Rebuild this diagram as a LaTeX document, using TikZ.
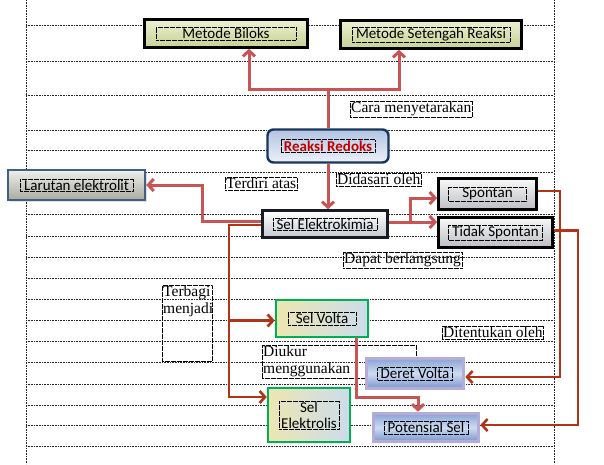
\documentclass[tikz,border=0pt]{standalone}
\usepackage{fontspec}
\setmainfont{Liberation Serif}
\newfontfamily\boxfont{Carlito}
\usetikzlibrary{arrows.meta,shadows}

\definecolor{merahmuda}{RGB}{200,84,84}
\definecolor{merahtua}{RGB}{178,52,22}
\definecolor{redokstext}{RGB}{192,0,0}
\definecolor{redoksline}{RGB}{24,52,92}
\definecolor{larutanline}{RGB}{66,96,134}
\definecolor{hijau}{RGB}{0,176,80}
\definecolor{ungu}{RGB}{182,172,216}

\begin{document}
\begin{tikzpicture}[x=1pt,y=-1pt]
	\tikzstyle{garis}   = [line width=0.8pt, dash pattern=on 0.8pt off 0.8pt, black!85]
	\tikzstyle{kotak}   = [rectangle, inner sep=0pt]
	\tikzstyle{metode}  = [kotak, draw=black, line width=2.6pt, top color={rgb,255:red,236;green,240;blue,210}, bottom color={rgb,255:red,198;green,210;blue,148}, drop shadow={opacity=0.45, shadow xshift=1.5pt, shadow yshift=-1.5pt}]
	\tikzstyle{redoks}  = [kotak, rounded corners=6pt, draw=redoksline, line width=2.4pt, top color={rgb,255:red,178;green,196;blue,226}, bottom color={rgb,255:red,236;green,241;blue,249}]
	\tikzstyle{elektro} = [kotak, draw={rgb,255:red,24;green,26;blue,36}, line width=2.6pt, top color=white, bottom color={rgb,255:red,196;green,200;blue,208}, drop shadow={opacity=0.35, shadow xshift=1.5pt, shadow yshift=-1.5pt}]
	\tikzstyle{larutan} = [kotak, draw=larutanline, line width=2.4pt, top color={rgb,255:red,238;green,238;blue,234}, bottom color={rgb,255:red,168;green,172;blue,160}, drop shadow={opacity=0.25, shadow xshift=1.5pt, shadow yshift=-1.5pt}]
	\tikzstyle{spontan} = [kotak, draw=black, line width=2.8pt, top color={rgb,255:red,248;green,248;blue,248}, bottom color={rgb,255:red,188;green,190;blue,196}, drop shadow={opacity=0.35, shadow xshift=1.5pt, shadow yshift=-1.5pt}]
	\tikzstyle{sel}     = [kotak, draw=hijau, line width=2.4pt, left color={rgb,255:red,236;green,230;blue,178}, right color={rgb,255:red,204;green,220;blue,236}]
	\tikzstyle{deret}   = [kotak, draw=ungu, line width=3.6pt, top color={rgb,255:red,136;green,164;blue,214}, bottom color={rgb,255:red,120;green,150;blue,206}, middle color={rgb,255:red,206;green,220;blue,242}]
	\tikzstyle{tekst}   = [draw=black, line width=0.45pt, dash pattern=on 0.5pt off 0.7pt, inner sep=1pt, align=center, font=\boxfont\fontsize{15}{16}\selectfont]
	\tikzstyle{ket}     = [draw=black, line width=0.45pt, dash pattern=on 0.5pt off 0.7pt, inner sep=1pt, anchor=north west, align=left, font=\fontsize{15.5}{17}\selectfont]
	\tikzstyle{hubung}  = [draw=merahmuda, line width=3pt, -{Straight Barb[length=5.5pt, width=12pt]}]
	\tikzstyle{panahtua} = [draw=merahtua, line width=2.6pt, -{Straight Barb[length=5.5pt, width=12pt]}]

	\useasboundingbox (0,0) rectangle (604,464);

	% table lines behind the map
	\foreach \y in {25,61,95,130,150,172,214,236,257,278,299,320,341,362,384,405,425,446}
		\draw[garis] (26,\y) -- (554,\y);
	\foreach \x in {26,554}
		\draw[garis] (\x,0) -- (\x,464);

	% labels
	\node[ket] (cara) at (350,101) {Cara menyetarakan};
	\node[ket] (terdiri) at (225,177) {Terdiri atas};
	\node[ket] (didasari) at (336,173) {Didasari oleh};
	\node[ket] (dapat) at (343,252) {Dapat berlangsung};
	\node[ket] (terbagi) at (162,285) {\parbox[t][74pt][t]{48pt}{Terbagi\\menjadi}};
	\node[ket, text width=152] (diukur) at (262,345) {Diukur\\menggunakan};
	\node[ket] (ditentukan) at (442,326) {Ditentukan oleh};

	% boxes
	\foreach \nama/\jenis/\x/\y/\w/\h/\tw/\isi in {
		biloks/metode/226/33.5/163/28/140/{Metode Biloks},
		setengah/metode/431/34.5/181/28/158/{Metode Setengah Reaksi},
		redoks/redoks/328/146/121/33/94/{\bfseries\color{redokstext}Reaksi Redoks},
		elektrokimia/elektro/325/224/125/27/104/{Sel Elektrokimia},
		larutan/larutan/76.5/185/137/30/113/{Larutan elektrolit},
		spontan/spontan/487.5/194/98/31/78/{Spontan},
		tidak/spontan/495.5/232.5/114/30/94/{Tidak Spontan},
		volta/sel/322/318.5/92/37/68/{Sel Volta},
		elektrolis/sel/309/415/82/54/60/{Sel\\Elektrolis},
		deret/deret/415/373.5/97/30/75/{Deret Volta},
		potensial/deret/426/427.5/105/28/84/{Potensial Sel}}
	{
		\node[\jenis, minimum width=\w, minimum height=\h] (\nama) at (\x,\y) {};
		\node[tekst, minimum width=\tw] (\nama-t) at (\nama) {\isi};
	}

	% connectors
	\coordinate (cabang) at (redoks.north |- 0,89);
	\coordinate (dasar) at ([xshift=22pt,yshift=2pt]elektrokimia.east);
	\coordinate (bagi) at (229,397);
	\coordinate (ukur) at (356,397);
	\coordinate (tentu) at (560,377);
	\coordinate (tentu2) at (578,425);

	\draw[hubung, -] (redoks.north) -- (cabang);
	\draw[hubung] (cabang) -| ([xshift=23pt]biloks.south);
	\draw[hubung] (cabang) -| ([xshift=-32pt]setengah.south);
	\draw[hubung] (redoks.south) -- (redoks.south |- elektrokimia.north);
	\draw[hubung] ([yshift=3pt]elektrokimia.west) -- ++(-59,0) |- (larutan.east);
	\draw[hubung] ([yshift=2pt]elektrokimia.east) -- (dasar -| tidak.west);
	\draw[hubung] (dasar) |- ([yshift=-4pt]spontan.west);
	\draw[hubung] (volta.south -| ukur) -- (ukur) -| ([xshift=-8pt]potensial.north);

	\draw[panahtua] ([yshift=-1pt]elektrokimia.west) -| (bagi) -- (bagi -| elektrolis.west);
	\draw[panahtua] ([yshift=-2pt]bagi |- volta.west) -- ([yshift=-2pt]volta.west);
	\draw[panahtua] ([yshift=3pt]spontan.east) -| (tentu) -- (tentu -| deret.east);
	\draw[panahtua] ([yshift=2pt]tidak.east) -| (tentu2) -- (tentu2 -| potensial.east);
\end{tikzpicture}
\end{document}
